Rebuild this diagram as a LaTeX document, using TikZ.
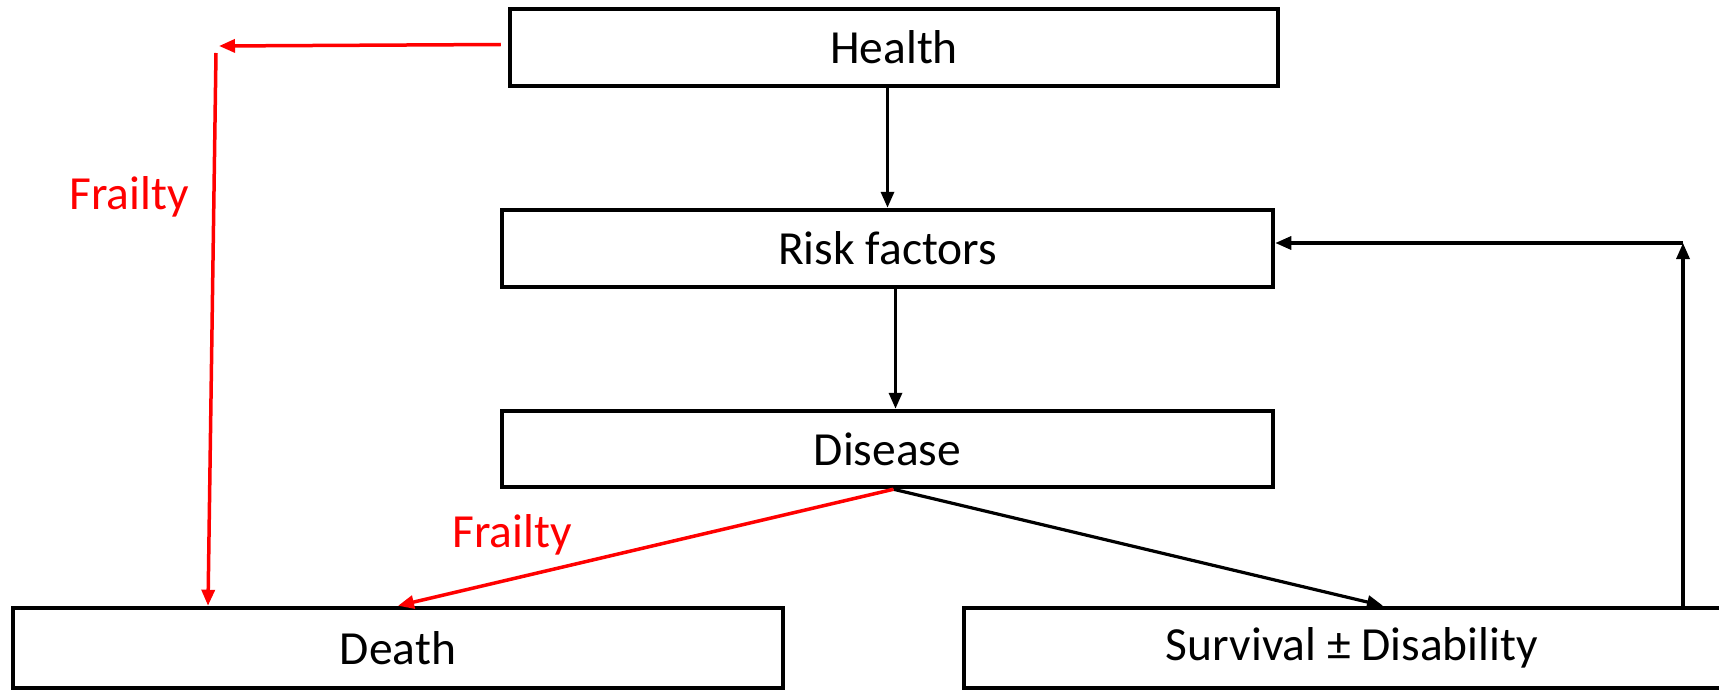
\documentclass[tikz,border=0pt]{standalone}
\usepackage{fontspec}
\setmainfont{Carlito}
\usetikzlibrary{arrows.meta,calc}
\definecolor{fred}{RGB}{255,0,0}
\tikzset{
  boxnode/.style={draw=black,line width=4.5pt,rectangle,inner sep=0pt,font=\fontsize{47.5}{57}\selectfont},
  blk/.style={draw=black,line width=3.2pt,-{Triangle[length=16pt,width=13pt]}},
  redarr/.style={draw=fred,line width=3.5pt,-{Triangle[length=16pt,width=13pt]}},
  lbl/.style={text=fred,font=\fontsize{47.5}{57}\selectfont,inner sep=0pt}
}
\begin{document}
\begin{tikzpicture}[x=1pt,y=-1pt]
\useasboundingbox (0,0) rectangle (1719,690);
\clip (0,0) rectangle (1719,690);
\fill[white] (0,0) rectangle (1719,690);
\node[boxnode,minimum width=768pt,minimum height=77pt] (health) at (894,47.5) {Health};
\node[boxnode,minimum width=771pt,minimum height=77pt] (rf) at (887.5,248.5) {Risk factors};
\node[boxnode,minimum width=771pt,minimum height=76pt] (dis) at (887.5,449) {Disease};
\node[boxnode,minimum width=770pt,minimum height=80pt] (death) at (398,648) {Death};
\node[boxnode,minimum width=776pt,minimum height=80pt] (surv) at (1352,648) {Survival ± Disability};
% black arrows
\draw[blk] (rf.north |- health.south) -- (rf.north);
\draw[blk] ([xshift=8pt]rf.south) -- ([xshift=8pt]dis.north);
\draw[blk] ([xshift=6pt]dis.south) -- ([xshift=31pt]surv.north);
\coordinate (corner) at (1683,243);
\draw[blk] (surv.north -| corner) -- (corner);
\draw[blk] (corner) -- (rf.east |- corner);
% red arrows
\draw[redarr] ([xshift=6pt]dis.south) -- (death.north);
\coordinate (ft) at (219,46);
\coordinate (fs) at (216,53);
\coordinate (fe) at (208,0);
\draw[redarr] ([xshift=-7pt,yshift=3pt]health.west) -- (ft);
\draw[redarr] (fs) -- (death.north -| fe);
\node[lbl] (fr1) at (129,197) {Frailty};
\node[lbl] (fr2) at (512,535) {Frailty};
\end{tikzpicture}
\end{document}
